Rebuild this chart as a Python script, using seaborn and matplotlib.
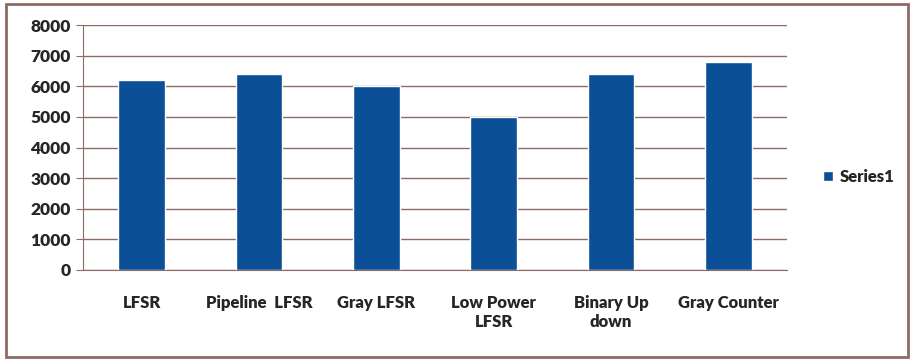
import matplotlib
matplotlib.use("Agg")
import matplotlib.pyplot as plt
import seaborn as sns
import numpy as np
import pandas as pd
from matplotlib.patches import Rectangle

# data
categories = ["LFSR", "Pipeline  LFSR", "Gray LFSR", "Low Power\nLFSR",
              "Binary Up\ndown", "Gray Counter"]
series1 = [6200, 6400, 6000, 5000, 6400, 6800]
y_ticks = [0, 1000, 2000, 3000, 4000, 5000, 6000, 7000, 8000]

bar_color = "#0B4F96"
line_color = "#8C6B64"

sns.set_style("white")
plt.rcParams["font.family"] = ["Lato", "DejaVu Sans"]

df = pd.DataFrame({"cat": categories, "val": series1})

fig = plt.figure(figsize=(9.15, 3.64), dpi=100)
ax = fig.add_axes([83 / 915, 1 - 270 / 364, (787 - 83) / 915, (270 - 25) / 364])

sns.barplot(data=df, x="cat", y="val", color=bar_color, width=0.4,
            saturation=1, label="Series1", ax=ax, zorder=3)

ax.set_ylim(0, 8000)
ax.set_xlim(-0.5, len(categories) - 0.5)
ax.set_yticks(y_ticks)
ax.set_yticklabels([str(v) for v in y_ticks], fontweight="heavy", fontsize=12.5)
ax.set_xlabel("")
ax.set_ylabel("")

# gridlines
ax.yaxis.grid(True, color=line_color, linewidth=1.0, zorder=0)
ax.set_axisbelow(True)

# spines
for s in ["top", "right"]:
    ax.spines[s].set_visible(False)
ax.spines["left"].set_color(line_color)
ax.spines["bottom"].set_color(line_color)

# x ticks: labels at centres, tick marks at boundaries
ax.set_xticks(range(len(categories)))
ax.set_xticklabels(categories, fontweight="heavy", fontsize=12, linespacing=1.25)
ax.set_xticks(np.arange(-0.5, len(categories), 1.0), minor=True)
ax.tick_params(axis="x", which="major", length=0, pad=18)
ax.tick_params(axis="x", which="minor", length=5, color=line_color, direction="out")
ax.tick_params(axis="y", length=5, color=line_color, direction="out", left=True, pad=4)

leg = ax.legend(loc="center left", bbox_to_anchor=(1.03, 0.38), frameon=False,
                handlelength=0.6, handleheight=0.6, handletextpad=0.4,
                prop={"weight": "heavy", "size": 12})

# outer frame
fig.patches.append(Rectangle((6 / 915, 1 - 357 / 364), (908 - 6) / 915, (357 - 4) / 364,
                             transform=fig.transFigure, fill=False,
                             edgecolor=line_color, linewidth=2))

fig.savefig("out.png", dpi=100, facecolor="white")
